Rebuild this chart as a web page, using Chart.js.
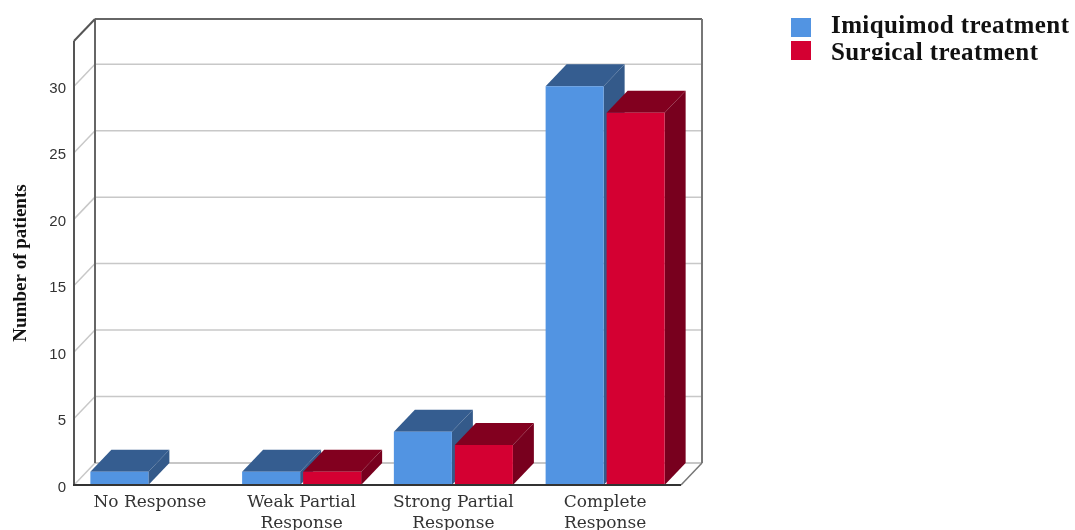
<!DOCTYPE html>
<html>
<head>
<meta charset="utf-8">
<title>Response by treatment</title>
<script src="https://cdn.jsdelivr.net/npm/chart.js@4"></script>
<style>
    html, body { margin: 0; padding: 0; background: #fff; overflow: hidden; }
    #wrap { position: relative; width: 1075px; height: 530px; }
    #legend {
        position: absolute; left: 791px; top: 11px; width: 284px; height: 49px; overflow: hidden;
        font: bold 25px "Liberation Serif", serif; letter-spacing: 0.4px; color: #111;
    }
    #legend div { position: relative; height: 27px; line-height: 27px; padding-left: 40px; white-space: nowrap; }
    #legend span { position: absolute; left: 0; top: 7px; width: 20px; height: 19px; }
    #legend div + div span { top: 3px; }
</style>
</head>
<body>
<div id="wrap">
    <canvas id="grafico" width="1075" height="530"></canvas>
    <div id="legend"></div>
</div>
<script>
const categorias = [
    "No Response",
    ["Weak Partial", "Response"],
    ["Strong Partial", "Response"],
    ["Complete", "Response"]
];
const imiquimod = [1, 1, 4, 30];
const cirurgia = [0, 1, 3, 28];
const nomes = ["Imiquimod treatment", "Surgical treatment"];
const cores = ["#5294e2", "#d40032"];
const coresTopo = ["#355d90", "#82001f"];
const coresLado = ["#345a8a", "#78001e"];
const ticksY = [0, 5, 10, 15, 20, 25, 30];

// depth of the fake 3D box
const dx = 21, dy = 22;

function poligono(ctx, pts, cor) {
    ctx.fillStyle = cor;
    ctx.beginPath();
    pts.forEach((p, i) => i ? ctx.lineTo(p[0], p[1]) : ctx.moveTo(p[0], p[1]));
    ctx.closePath();
    ctx.fill();
}

function linha(ctx, x1, y1, x2, y2, cor, w) {
    ctx.strokeStyle = cor;
    ctx.lineWidth = w;
    ctx.beginPath();
    ctx.moveTo(x1, y1);
    ctx.lineTo(x2, y2);
    ctx.stroke();
}

const caixa3d = {
    id: "caixa3d",
    beforeDatasetsDraw(chart) {
        const { ctx, chartArea: a, scales: { y } } = chart;
        ctx.save();
        ticksY.forEach(v => {
            if (v === 0) return;
            const py = y.getPixelForValue(v);
            linha(ctx, a.left, py, a.left + dx, py - dy, "#c8c8c8", 1.5);
            linha(ctx, a.left + dx, py - dy, a.right + dx, py - dy, "#c8c8c8", 1.5);
        });
        linha(ctx, a.left, a.bottom, a.left + dx, a.bottom - dy, "#c8c8c8", 1.5);
        linha(ctx, a.left + dx, a.bottom - dy, a.right + dx, a.bottom - dy, "#b4b4b4", 1.5);
        linha(ctx, a.right, a.bottom, a.right + dx, a.bottom - dy, "#777", 1.5);
        linha(ctx, a.left + dx, a.top - dy, a.right + dx, a.top - dy, "#666", 2);
        linha(ctx, a.left + dx, a.top - dy, a.left + dx, a.bottom - dy, "#666", 2);
        linha(ctx, a.right + dx, a.top - dy, a.right + dx, a.bottom - dy, "#777", 2);
        linha(ctx, a.left, a.top, a.left + dx, a.top - dy, "#555", 2);
        linha(ctx, a.left, a.top, a.left, a.bottom, "#555", 2);

        // top and side faces, blue first so red overlaps it; fronts come from the library after this
        chart.data.datasets.forEach((ds, i) => {
            chart.getDatasetMeta(i).data.forEach((bar, k) => {
                if (!ds.data[k]) return;
                const p = bar.getProps(["x", "y", "base", "width"], true);
                const l = p.x - p.width / 2, r = p.x + p.width / 2;
                poligono(ctx, [[l, p.y], [l + dx, p.y - dy], [r + dx, p.y - dy], [r, p.y]], coresTopo[i]);
                poligono(ctx, [[r, p.y], [r + dx, p.y - dy], [r + dx, p.base - dy], [r, p.base]], coresLado[i]);
            });
        });
        ctx.restore();
    },
    afterDatasetsDraw(chart) {
        const { ctx, chartArea: a } = chart;
        ctx.save();
        linha(ctx, a.left - 1, a.bottom, a.right, a.bottom, "#333", 2);
        ctx.restore();
    }
};

new Chart(document.getElementById("grafico").getContext("2d"), {
    type: "bar",
    data: {
        labels: categorias,
        datasets: [
            { label: nomes[0], data: imiquimod, backgroundColor: cores[0] },
            { label: nomes[1], data: cirurgia, backgroundColor: cores[1] }
        ]
    },
    options: {
        responsive: false,
        animation: false,
        categoryPercentage: 0.804,
        barPercentage: 0.951,
        layout: { padding: { top: 41, right: 394, left: 0, bottom: 0 } },
        plugins: { legend: { display: false }, title: { display: false }, tooltip: { enabled: false } },
        scales: {
            x: {
                afterFit(s) { s.height = 45; },
                grid: { display: false },
                border: { display: false },
                ticks: {
                    color: "#333",
                    maxRotation: 0,
                    autoSkip: false,
                    padding: 0,
                    font: { family: "DejaVu Serif", size: 17, lineHeight: 1.18 }
                }
            },
            y: {
                min: 0,
                max: 33.4,
                afterFit(s) { s.width = 74; },
                grid: { display: false },
                border: { display: false },
                title: {
                    display: true,
                    text: "Number of patients",
                    color: "#111",
                    padding: { top: 10, bottom: 0 },
                    font: { family: "Liberation Serif", size: 19, weight: "bold" }
                },
                ticks: {
                    stepSize: 5,
                    includeBounds: false,
                    color: "#333",
                    padding: 0,
                    labelOffset: 2.5,
                    font: { family: "Liberation Sans", size: 15 }
                }
            }
        }
    },
    plugins: [caixa3d]
});

// legend sits outside the plot and is cut off at the bottom like the original
const legenda = document.getElementById("legend");
nomes.forEach((n, i) => {
    const d = document.createElement("div");
    const s = document.createElement("span");
    s.style.background = cores[i];
    d.appendChild(s);
    d.appendChild(document.createTextNode(n));
    legenda.appendChild(d);
});
</script>
</body>
</html>
